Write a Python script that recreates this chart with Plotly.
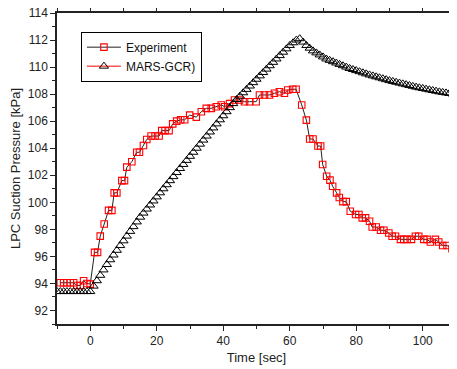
import plotly.graph_objects as go

# Experiment (time [s], pressure [kPa])
exp_t = [-9, -8, -7, -6, -5, -4, -3, -2, -1, 0,
         1.3, 2.2, 3.0, 4.2, 5.5, 6.5, 7.2, 8.0, 9.5, 10.3, 11.0, 12.5, 14.0, 14.8,
         16.0, 17.0, 18.3, 19.5, 20.7, 21.5, 22.5, 23.7, 24.8, 26.0, 27.2, 28.4,
         29.9, 31.9, 33.4, 34.9, 36.4, 37.9, 39.4, 40.4, 41.9, 43.4, 44.9, 46.4,
         47.9, 49.9, 50.9, 52.4, 53.9, 55.4, 56.9, 58.4, 59.4, 60.9, 61.9, 63.6,
         65.0, 66.0, 67.0, 68.5, 69.3, 69.9, 71.1, 72.1, 72.9, 74.1, 74.9, 76.0,
         77.0, 78.2, 79.8, 80.8, 81.8, 82.8, 84.0, 84.8, 86.0, 87.3, 88.3, 89.8,
         90.8, 91.8, 93.3, 94.3, 95.3, 96.6, 97.8, 98.8, 100.3, 101.3, 102.3,
         103.8, 104.8, 106.0, 107.3, 108.8]
exp_p = [94.05, 94.05, 94.05, 94.05, 94.05, 93.85, 93.85, 94.2, 94.0, 93.95,
         96.3, 96.3, 97.5, 98.4, 99.4, 99.4, 100.7, 100.7, 101.6, 101.6, 102.6, 103.0, 103.7, 103.7,
         104.2, 104.65, 104.9, 104.9, 104.9, 105.3, 105.3, 105.3, 105.8, 106.0, 106.1, 106.1,
         106.45, 106.3, 106.7, 106.95, 106.95, 107.07, 107.2, 107.07, 107.3, 107.57, 107.57, 107.44,
         107.44, 107.44, 107.94, 107.94, 107.94, 108.06, 108.18, 108.06, 108.3, 108.36, 108.36, 107.2,
         106.08, 104.68, 104.68, 104.16, 104.16, 102.8, 101.93, 101.64, 101.19, 100.7, 100.35, 100.05,
         100.05, 99.34, 99.1, 99.1, 98.85, 98.85, 98.6, 98.17, 98.17, 97.93, 97.93, 97.73,
         97.49, 97.49, 97.26, 97.26, 97.26, 97.26, 97.49, 97.49, 97.26, 97.26, 97.06,
         97.26, 97.06, 96.8, 96.8, 96.57]

# MARS-GCR simulation
mars_t = [-10, -9, -8, -7, -6, -5, -4, -3, -2, -1, 0,
          1, 2, 3, 4, 5, 6, 7, 8, 9, 10,
          11, 12, 13, 14, 15, 16, 17, 18, 19, 20,
          21, 22, 23, 24, 25, 26, 27, 28, 29, 30,
          31, 32, 33, 34, 35, 36, 37, 38, 39, 40,
          41, 42, 43, 44, 45, 46, 47, 48, 49, 50,
          51, 52, 53, 54, 55, 56, 57, 58, 59, 60,
          61, 62, 63, 64, 65, 66, 67, 68, 69, 70,
          71, 72, 73, 74, 75, 76, 77, 78, 79, 80,
          81, 82, 83, 84, 85, 86, 87, 88, 89, 90,
          91, 92, 93, 94, 95, 96, 97, 98, 99, 100,
          101, 102, 103, 104, 105, 106, 107, 108, 109, 110]
mars_p = [93.4, 93.4, 93.4, 93.4, 93.4, 93.4, 93.4, 93.4, 93.4, 93.4, 93.4,
          93.8, 94.2, 94.6, 95.0, 95.4, 95.75, 96.1, 96.45, 96.8, 97.15,
          97.5, 97.85, 98.2, 98.55, 98.9, 99.2, 99.5, 99.8, 100.1, 100.4,
          100.7, 101.0, 101.3, 101.6, 101.9, 102.2, 102.5, 102.8, 103.1, 103.4,
          103.7, 104.0, 104.3, 104.6, 104.9, 105.2, 105.5, 105.8, 106.1, 106.4,
          106.7, 107.0, 107.3, 107.6, 107.85, 108.1, 108.35, 108.6, 108.85, 109.1,
          109.35, 109.6, 109.85, 110.1, 110.35, 110.6, 110.85, 111.1, 111.35, 111.6,
          111.8, 112.0, 112.1, 111.85, 111.6, 111.4, 111.2, 111.05, 110.9, 110.75,
          110.6, 110.5, 110.4, 110.3, 110.2, 110.1, 110.0, 109.9, 109.82, 109.74,
          109.66, 109.58, 109.5, 109.42, 109.35, 109.28, 109.21, 109.14, 109.07, 109.0,
          108.94, 108.88, 108.82, 108.76, 108.7, 108.64, 108.58, 108.52, 108.47, 108.42,
          108.37, 108.32, 108.27, 108.22, 108.17, 108.13, 108.09, 108.05, 108.01, 107.97]

x_ticks = [0, 20, 40, 60, 80, 100]
y_ticks = [92, 94, 96, 98, 100, 102, 104, 106, 108, 110, 112, 114]

FONT = "Arial, Liberation Sans, sans-serif"

exp_marker = dict(symbol="square-open", size=6.5, color="#ff0000", line=dict(width=1.1, color="#ff0000"))
mars_marker = dict(symbol="triangle-up-open", size=8, color="#000000", line=dict(width=1, color="#000000"))

fig = go.Figure()
fig.add_trace(go.Scatter(
    x=exp_t, y=exp_p, name="Experiment", mode="lines+markers",
    line=dict(color="#222222", width=1), marker=exp_marker,
))
# simulation points: the dense triangles hide the curve, so plot markers only
fig.add_trace(go.Scatter(
    x=mars_t, y=mars_p, name="MARS-GCR)", mode="markers",
    marker=mars_marker, showlegend=False,
))
# legend entry for the simulation (red line, black triangle)
fig.add_trace(go.Scatter(
    x=[None], y=[None], name="MARS-GCR)", mode="lines+markers",
    line=dict(color="#ff0000", width=1), marker=mars_marker,
))

axis_common = dict(
    showline=True, linecolor="#222222", linewidth=1.5, mirror="allticks",
    ticks="outside", ticklen=5, tickwidth=1, tickcolor="#222222",
    showgrid=False, zeroline=False, automargin=False, ticklabeloverflow="allow",
    tickfont=dict(family=FONT, size=12, color="#222222"),
)
fig.update_xaxes(
    range=[-10, 110], tickvals=x_ticks,
    minor=dict(ticks="outside", ticklen=3, tickwidth=1, tickcolor="#222222", dtick=10, tick0=0),
    title=dict(text="Time [sec]", font=dict(family=FONT, size=13, color="#222222"), standoff=6),
    **axis_common,
)
fig.update_yaxes(
    range=[91, 114], tickvals=y_ticks,
    minor=dict(ticks="outside", ticklen=3, tickwidth=1, tickcolor="#222222", dtick=1, tick0=0),
    title=dict(text="LPC Suction Pressure [kPa]", font=dict(family=FONT, size=13, color="#222222"), standoff=6),
    **axis_common,
)
# The page body adds an 8px offset; size the figure so the plot lands where the reference has it.
fig.update_layout(
    width=449, height=361,
    margin=dict(l=49, r=1, t=5, b=45),
    plot_bgcolor="white", paper_bgcolor="white",
    showlegend=True,
    legend=dict(
        x=0.06, y=0.94, xanchor="left", yanchor="top",
        bordercolor="#000000", borderwidth=1, bgcolor="white",
        font=dict(family=FONT, size=12, color="#111111"),
        tracegroupgap=0, itemwidth=34,
    ),
)
fig.write_html("out.html")
